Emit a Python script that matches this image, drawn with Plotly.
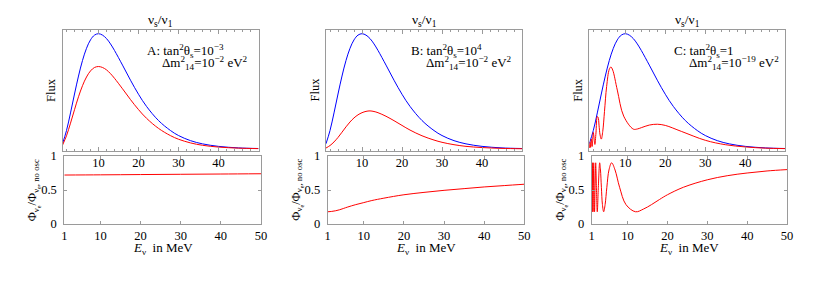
import plotly.graph_objects as go

# ---------------- data ----------------
E_flux = [1, 2, 3, 4, 5, 6, 7, 8, 9, 10, 11, 12, 13, 14, 16, 18, 20, 22, 25, 28, 30, 33, 36, 40, 45, 50]
flux_no_osc = [0.044, 0.155, 0.303, 0.462, 0.613, 0.744, 0.846, 0.917, 0.957, 0.969, 0.957, 0.928, 0.883,
               0.828, 0.705, 0.578, 0.460, 0.358, 0.239, 0.155, 0.113, 0.070, 0.043, 0.022, 0.009, 0.004]
flux_A = [0.032, 0.111, 0.217, 0.330, 0.439, 0.532, 0.605, 0.656, 0.685, 0.693, 0.685, 0.665, 0.633,
          0.594, 0.506, 0.415, 0.331, 0.258, 0.173, 0.112, 0.082, 0.051, 0.031, 0.016, 0.007, 0.003]
flux_B = [0.008, 0.029, 0.059, 0.097, 0.141, 0.186, 0.227, 0.261, 0.287, 0.305, 0.316, 0.320, 0.315,
          0.305, 0.275, 0.238, 0.198, 0.159, 0.111, 0.075, 0.056, 0.036, 0.022, 0.012, 0.005, 0.002]

E_fluxC = [1.0, 1.05, 1.091, 1.143, 1.2, 1.263, 1.333, 1.412, 1.5, 1.6, 1.714, 1.846, 2.0, 2.182, 2.4,
           2.667, 3.0, 3.2, 3.429, 3.692, 4.0, 4.364, 4.8, 5.333, 6.0, 6.4, 6.857, 8.0, 9.6, 12, 13, 14,
           16, 18, 20, 24, 30, 35, 40, 45, 50]
flux_C = [0.040, 0.026, 0.009, 0.031, 0.056, 0.037, 0.014, 0.045, 0.084, 0.056, 0.021, 0.073, 0.139,
          0.097, 0.038, 0.135, 0.272, 0.266, 0.200, 0.118, 0.083, 0.148, 0.316, 0.525, 0.670, 0.689,
          0.663, 0.495, 0.276, 0.167, 0.168, 0.179, 0.201, 0.208, 0.198, 0.148, 0.073, 0.036, 0.017,
          0.007, 0.003]

E_ratioA = [1, 10, 20, 30, 40, 50]
ratio_A = [0.720, 0.723, 0.727, 0.731, 0.735, 0.739]

E_ratioB = [1, 2, 3, 4, 5, 6, 8, 10, 12, 15, 20, 25, 30, 35, 40, 45, 50]
ratio_B = [0.18, 0.185, 0.195, 0.21, 0.23, 0.25, 0.285, 0.315, 0.345, 0.38, 0.43, 0.465, 0.495,
           0.52, 0.545, 0.565, 0.585]

E_ratioC = [1.0, 1.05, 1.091, 1.143, 1.2, 1.263, 1.333, 1.412, 1.5, 1.6, 1.714, 1.846, 2.0, 2.182,
            2.4, 2.667, 3.0, 3.2, 3.429, 3.692, 4.0, 4.364, 4.8, 5.333, 6.0, 6.857, 8.0, 9.6, 12, 14,
            16, 18, 20, 24, 30, 35, 40, 45, 50]
ratio_C = [0.90, 0.54, 0.18, 0.54, 0.90, 0.54, 0.18, 0.54, 0.90, 0.54, 0.18, 0.54, 0.90, 0.54,
           0.18, 0.54, 0.90, 0.795, 0.54, 0.285, 0.18, 0.285, 0.54, 0.795, 0.90, 0.795, 0.54, 0.285,
           0.18, 0.22, 0.285, 0.36, 0.43, 0.54, 0.65, 0.71, 0.75, 0.78, 0.80]

panel_letters = ["A", "B", "C"]
mixing = ["10<sup>−3</sup>", "10<sup>4</sup>", "1"]
dm2 = ["10<sup>−2</sup>", "10<sup>−2</sup>", "10<sup>−19</sup>"]
bottom_xticks = [1, 10, 20, 30, 40, 50]
top_xticks = [10, 20, 30, 40]
ratio_yticks = [0, 0.5, 1]
ratio_yticklabels = ["0", "0.5", "1"]

# ---------------- layout geometry (pixels) ----------------
W, H = 830, 294
top_px = [(62.5, 258.5), (326.0, 522.0), (589.3, 785.3)]
bot_px = [(64.3, 261.0), (327.7, 524.3), (591.7, 787.0)]
top_y = (30, 151)
bot_y = (156, 224)

def px_x(v):
    return v / W

def px_y(v):
    return 1 - v / H

FONT = "Liberation Serif"
FRAME = "#9a9a9a"
BLUE = "#0000ff"
RED = "#ff0000"

fig = go.Figure()

top_red = [(E_flux, flux_A), (E_flux, flux_B), (E_fluxC, flux_C)]
bot_red = [(E_ratioA, ratio_A), (E_ratioB, ratio_B), (E_ratioC, ratio_C)]

layout = dict(width=W, height=H, margin=dict(l=0, r=0, t=0, b=0, pad=0, autoexpand=False),
              paper_bgcolor="white", plot_bgcolor="rgba(0,0,0,0)", showlegend=False,
              font=dict(family=FONT, size=12, color="black"))
annotations = []

for i in range(3):
    ti = 2 * i + 1
    bi = 2 * i + 2
    xt = "x" if ti == 1 else f"x{ti}"
    yt = "y" if ti == 1 else f"y{ti}"
    xb = f"x{bi}"
    yb = f"y{bi}"

    fig.add_trace(go.Scatter(x=E_flux, y=flux_no_osc, mode="lines", xaxis=xt, yaxis=yt,
                             line=dict(color=BLUE, width=1, shape="spline")))
    fig.add_trace(go.Scatter(x=top_red[i][0], y=top_red[i][1], mode="lines", xaxis=xt, yaxis=yt,
                             line=dict(color=RED, width=1, shape="spline")))
    fig.add_trace(go.Scatter(x=bot_red[i][0], y=bot_red[i][1], mode="lines", xaxis=xb, yaxis=yb,
                             line=dict(color=RED, width=1, shape="spline")))

    kt = "xaxis" if ti == 1 else f"xaxis{ti}"
    kty = "yaxis" if ti == 1 else f"yaxis{ti}"
    layout[kt] = dict(domain=[px_x(top_px[i][0]), px_x(top_px[i][1])], range=[1, 50],
                      anchor=yt, showline=True, linecolor=FRAME, linewidth=1, mirror="ticks",
                      ticks="inside", ticklen=4, tickcolor=FRAME, tickvals=top_xticks,
                      ticktext=[str(v) for v in top_xticks], showgrid=False, zeroline=False,
                      automargin=False,
                      tickfont=dict(family=FONT, size=12.5, color="black"),
                      minor=dict(ticks="inside", ticklen=2, dtick=2, tick0=0, tickcolor=FRAME))
    layout[kty] = dict(domain=[px_y(top_y[1]), px_y(top_y[0])], range=[-0.017, 1.0],
                       anchor=xt, showline=True, linecolor=FRAME, linewidth=1, mirror=True,
                       automargin=False,
                       ticks="", showticklabels=False, showgrid=False, zeroline=False)
    layout[f"xaxis{bi}"] = dict(domain=[px_x(bot_px[i][0]), px_x(bot_px[i][1])], range=[1, 50],
                                anchor=yb, showline=True, linecolor=FRAME, linewidth=1,
                                mirror="ticks", ticks="inside", ticklen=3, tickcolor=FRAME,
                                tickvals=bottom_xticks, ticktext=[str(v) for v in bottom_xticks],
                                showgrid=False, zeroline=False, automargin=False,
                                tickfont=dict(family=FONT, size=12.5, color="black"))
    layout[f"yaxis{bi}"] = dict(domain=[px_y(bot_y[1]), px_y(bot_y[0])], range=[0, 1],
                                anchor=xb, showline=True, linecolor=FRAME, linewidth=1,
                                mirror="ticks", ticks="inside", ticklen=3, tickcolor=FRAME,
                                tickvals=ratio_yticks, ticktext=ratio_yticklabels,
                                showgrid=False, zeroline=False, ticklabelstandoff=4,
                                automargin=False,
                                tickfont=dict(family=FONT, size=12.5, color="black"))

    cx = (top_px[i][0] + top_px[i][1]) / 2
    # title
    annotations.append(dict(x=px_x(cx), y=px_y(21), xref="paper", yref="paper",
                            text="ν<sub>s</sub>/ν<sub>1</sub>", showarrow=False,
                            font=dict(family=FONT, size=13.5), xanchor="center", yanchor="middle"))
    # parameter text
    left = top_px[i][0] + 82.5
    annotations.append(dict(x=px_x(left), y=px_y(51), xref="paper", yref="paper",
                            text=f"{panel_letters[i]}: tan<sup>2</sup>θ<sub>s</sub>={mixing[i]}",
                            showarrow=False, font=dict(family=FONT, size=13),
                            xanchor="left", yanchor="middle"))
    annotations.append(dict(x=px_x(left + 15), y=px_y(63), xref="paper", yref="paper",
                            text=f"Δm<sup>2</sup><sub>14</sub>={dm2[i]} eV<sup>2</sup>",
                            showarrow=False, font=dict(family=FONT, size=13),
                            xanchor="left", yanchor="middle"))
    # Flux label
    annotations.append(dict(x=px_x(top_px[i][0] - 11.5), y=px_y(90), xref="paper", yref="paper",
                            text="Flux", textangle=-90, showarrow=False,
                            font=dict(family=FONT, size=12.5), xanchor="center", yanchor="middle"))
    # ratio label
    annotations.append(dict(x=px_x(bot_px[i][0] - 31), y=px_y(190), xref="paper", yref="paper",
                            text="Φ<sub>ν<sub>e</sub></sub>/Φ<sub>ν<sub>e</sub>, no osc</sub>",
                            textangle=-90, showarrow=False,
                            font=dict(family=FONT, size=12.5), xanchor="center", yanchor="middle"))
    # x label
    bcx = (bot_px[i][0] + bot_px[i][1]) / 2
    annotations.append(dict(x=px_x(bcx), y=px_y(248), xref="paper", yref="paper",
                            text="<i>E</i><sub>ν</sub>  in MeV", showarrow=False,
                            font=dict(family=FONT, size=13), xanchor="center", yanchor="middle"))

layout["annotations"] = annotations
fig.update_layout(**layout)
fig.write_html("out.html", config={"displayModeBar": False},
               post_script="document.body.style.margin='0';document.body.style.padding='0';")
